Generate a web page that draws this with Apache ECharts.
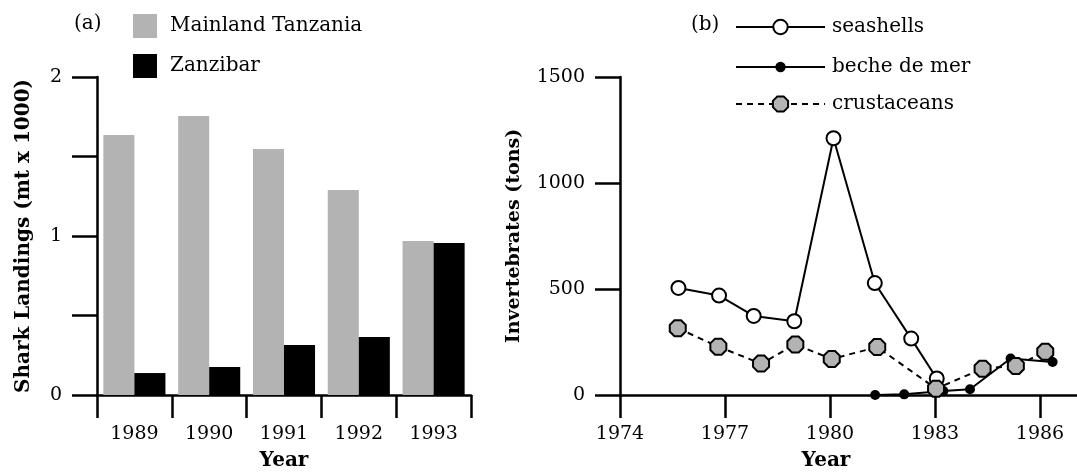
<!DOCTYPE html>
<html>
<head>
<meta charset="utf-8">
<script src="https://cdn.jsdelivr.net/npm/echarts@6/dist/echarts.min.js"></script>
<style>
  html, body { margin: 0; background: #fff; }
  #chart { width: 1077px; height: 476px; }
</style>
</head>
<body>
<div id="chart"></div>
<script>
// ---- panel (a): shark landings ----
const sharkYears = ['1989', '1990', '1991', '1992', '1993'];
const mainland = [1.635, 1.755, 1.547, 1.29, 0.969];
const zanzibar = [0.138, 0.176, 0.314, 0.365, 0.956];
const sharkLabels = [0, 1, 2];

// ---- panel (b): invertebrates, [year, tons] ----
const seashells = [[1975.67, 505], [1976.83, 469], [1977.82, 373], [1978.98, 348],
  [1980.1, 1211], [1981.28, 528], [1982.32, 266], [1983.05, 78]];
const becheDeMer = [[1981.29, 0], [1982.12, 3], [1983.24, 19], [1984.0, 27],
  [1985.16, 172], [1986.36, 156]];
const crustaceans = [[1975.65, 315], [1976.81, 228], [1978.03, 148], [1979.01, 238],
  [1980.05, 170], [1981.35, 226], [1983.03, 30], [1984.36, 124], [1985.31, 137], [1986.15, 204]];
const yearTicks = [1974, 1977, 1980, 1983, 1986];

const FONT = 'DejaVu Serif';
const GRAY = '#b3b3b3';
const octagon = 'path://M29.3,0L70.7,0L100,29.3L100,70.7L70.7,100L29.3,100L0,70.7L0,29.3Z';

const axisLine = { show: true, onZero: false, lineStyle: { color: '#000', width: 2.5 } };
const tickStyle = { color: '#000', width: 2.5 };
const labelStyle = { color: '#000', fontFamily: FONT, fontSize: 19 };
const nameStyle = { color: '#000', fontFamily: FONT, fontSize: 20, fontWeight: 'bold' };
const legendText = { color: '#000', fontFamily: FONT, fontSize: 20 };

function lineLegend(name, top, h) {
  return {
    data: [name], left: 735, top: top, orient: 'vertical', padding: 0,
    itemWidth: 89, itemHeight: h,
    textStyle: Object.assign({ padding: [0, 0, 0, 2] }, legendText)
  };
}

const chart = echarts.init(document.getElementById('chart'));
chart.setOption({
  animation: false,
  title: [
    { text: '(a)', left: 69, top: 9, textStyle: Object.assign({ fontWeight: 'normal' }, legendText) },
    { text: '(b)', left: 686, top: 10, textStyle: Object.assign({ fontWeight: 'normal' }, legendText) }
  ],
  legend: [
    {
      data: ['Mainland Tanzania', 'Zanzibar'], left: 133, top: 14, orient: 'vertical', padding: 0,
      itemWidth: 24, itemHeight: 24, itemGap: 16, icon: 'rect',
      textStyle: Object.assign({ padding: [0, 0, 0, 8] }, legendText)
    },
    lineLegend('seashells', 17, 18),
    lineLegend('beche de mer', 57, 13),
    lineLegend('crustaceans', 94, 19)
  ],
  grid: [
    { left: 97, top: 77, width: 374, height: 318, outerBoundsMode: 'none' },
    // runs a little past the right edge so the end-of-axis tick falls off the canvas
    { left: 620, top: 77, width: 462, height: 318, outerBoundsMode: 'none' }
  ],
  xAxis: [
    {
      type: 'category', gridIndex: 0, data: sharkYears,
      name: 'Year', nameLocation: 'middle', nameGap: 56, nameTextStyle: nameStyle,
      axisLine: axisLine,
      axisTick: { show: true, length: 23, lineStyle: tickStyle },
      axisLabel: Object.assign({ margin: 30 }, labelStyle)
    },
    {
      type: 'value', gridIndex: 1, min: 1974, max: 1974 + 462 / 35, interval: 3,
      name: 'Year', nameLocation: 'middle', nameGap: 56,
      nameTextStyle: Object.assign({ padding: [0, 50, 0, 0] }, nameStyle),
      splitLine: { show: false },
      axisLine: axisLine,
      axisTick: { show: true, length: 23, lineStyle: tickStyle },
      axisLabel: Object.assign({ margin: 30, customValues: yearTicks, formatter: v => String(v) }, labelStyle)
    }
  ],
  yAxis: [
    {
      type: 'value', gridIndex: 0, min: 0, max: 2, interval: 0.5,
      name: 'Shark Landings (mt x 1000)', nameLocation: 'middle', nameGap: 63, nameTextStyle: nameStyle,
      splitLine: { show: false },
      axisLine: axisLine,
      axisTick: { show: true, length: 25, lineStyle: tickStyle },
      axisLabel: Object.assign({
        margin: 35,
        formatter: v => (sharkLabels.indexOf(v) >= 0 ? String(v) : '')
      }, labelStyle)
    },
    {
      type: 'value', gridIndex: 1, min: 0, max: 1500, interval: 500,
      name: 'Invertebrates (tons)', nameLocation: 'middle', nameGap: 96,
      nameTextStyle: Object.assign({}, nameStyle, { fontSize: 19 }),
      splitLine: { show: false },
      axisLine: axisLine,
      axisTick: { show: true, length: 25, lineStyle: tickStyle },
      axisLabel: Object.assign({ margin: 35, formatter: v => String(v) }, labelStyle)
    }
  ],
  series: [
    {
      name: 'Mainland Tanzania', type: 'bar', xAxisIndex: 0, yAxisIndex: 0, data: mainland,
      itemStyle: { color: GRAY }, barGap: '0%', barCategoryGap: '17%'
    },
    {
      name: 'Zanzibar', type: 'bar', xAxisIndex: 0, yAxisIndex: 0, data: zanzibar,
      itemStyle: { color: '#000' }
    },
    {
      name: 'seashells', type: 'line', xAxisIndex: 1, yAxisIndex: 1, data: seashells,
      symbol: 'circle', symbolSize: 14,
      lineStyle: { color: '#000', width: 2 },
      itemStyle: { color: '#fff', borderColor: '#000', borderWidth: 2 }
    },
    {
      name: 'beche de mer', type: 'line', xAxisIndex: 1, yAxisIndex: 1, data: becheDeMer,
      symbol: 'circle', symbolSize: 10,
      lineStyle: { color: '#000', width: 2 },
      itemStyle: { color: '#000', borderColor: '#000', borderWidth: 0 }
    },
    {
      name: 'crustaceans', type: 'line', xAxisIndex: 1, yAxisIndex: 1, data: crustaceans,
      symbol: octagon, symbolSize: 16,
      lineStyle: { color: '#000', width: 2, type: [6, 5] },
      itemStyle: { color: GRAY, borderColor: '#000', borderWidth: 2 }
    }
  ]
});
</script>
</body>
</html>
